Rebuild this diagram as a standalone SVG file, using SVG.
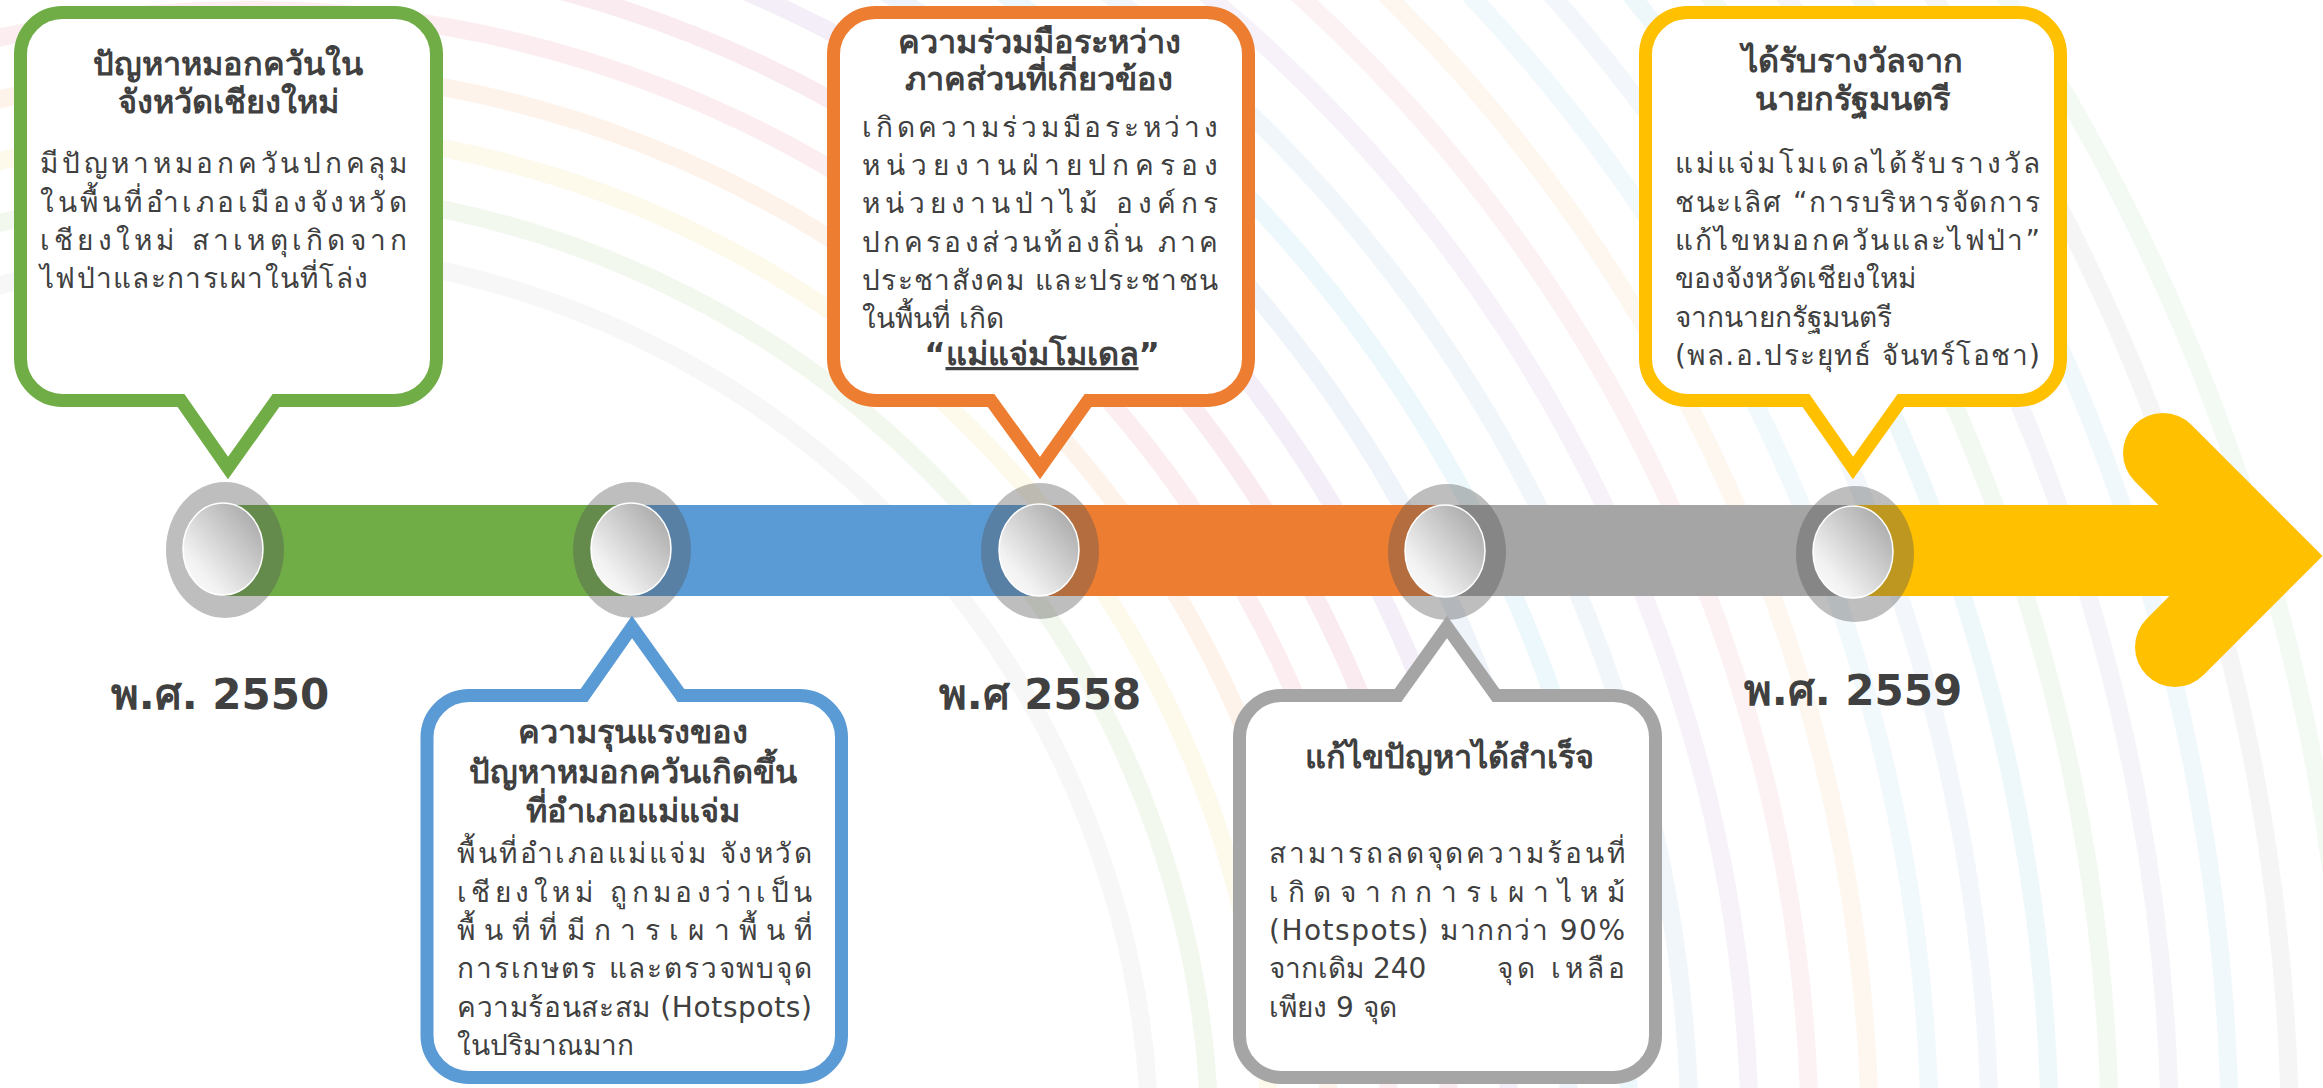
<svg xmlns="http://www.w3.org/2000/svg" width="2323" height="1088" viewBox="0 0 2323 1088">
<style>
.t{font-family:'DejaVu Sans','Noto Sans',sans-serif;fill:#404040}
.h{font-weight:bold;font-size:32.5px;text-anchor:middle}
.b{font-size:28px}
.yr{font-weight:bold;font-size:42px;text-anchor:middle}
.bub{fill:#fff;stroke-width:13;stroke-linejoin:miter}
.ring{fill:none;stroke-width:18}
.outer{fill:#555;opacity:0.38}
.inner{fill:url(#ig);stroke:#fff;stroke-width:1.5}
</style>
<defs>
<linearGradient id="ig" x1="1" y1="0" x2="0" y2="1">
<stop offset="0" stop-color="#9e9e9e"/>
<stop offset="0.75" stop-color="#f2f2f2"/>
<stop offset="1" stop-color="#ffffff"/>
</linearGradient>
</defs>
<rect width="2323" height="1088" fill="#fff"/>
<g id="background" opacity="0.14">
<circle class="ring" cx="250" cy="1150" r="900" stroke="#c8c8c8"/>
<circle class="ring" cx="250" cy="1150" r="960" stroke="#a9d38f"/>
<circle class="ring" cx="250" cy="1150" r="1020" stroke="#f2dc7a"/>
<circle class="ring" cx="250" cy="1150" r="1080" stroke="#f5b27a"/>
<circle class="ring" cx="250" cy="1150" r="1140" stroke="#ef8f9a"/>
<circle class="ring" cx="250" cy="1150" r="1200" stroke="#e07a9a"/>
<circle class="ring" cx="250" cy="1150" r="1260" stroke="#b08fc8"/>
<circle class="ring" cx="250" cy="1150" r="1320" stroke="#8fb8e0"/>
<circle class="ring" cx="250" cy="1150" r="1380" stroke="#7fd0ea"/>
<circle class="ring" cx="250" cy="1150" r="1440" stroke="#9fc4e0"/>
<circle class="ring" cx="250" cy="1150" r="1500" stroke="#c8a8d8"/>
<circle class="ring" cx="250" cy="1150" r="1560" stroke="#f0a0b0"/>
<circle class="ring" cx="250" cy="1150" r="1620" stroke="#f5c89a"/>
<circle class="ring" cx="250" cy="1150" r="1680" stroke="#a0d8f0"/>
<circle class="ring" cx="250" cy="1150" r="1740" stroke="#b0c8e8"/>
<circle class="ring" cx="250" cy="1150" r="1800" stroke="#8fd0e8"/>
<circle class="ring" cx="250" cy="1150" r="1860" stroke="#a8d8a0"/>
<circle class="ring" cx="250" cy="1150" r="1920" stroke="#b8b8d8"/>
<circle class="ring" cx="250" cy="1150" r="1980" stroke="#9fd4ec"/>
<circle class="ring" cx="250" cy="1150" r="2040" stroke="#c0c0c0"/>
<circle class="ring" cx="250" cy="1150" r="2100" stroke="#a8e0b0"/>
</g>
<g id="connectors">
<rect x="225" y="505" width="407" height="91" fill="#70ad47"/>
<rect x="632" y="505" width="408" height="91" fill="#5b9bd5"/>
<rect x="1040" y="505" width="407" height="91" fill="#ed7d31"/>
<rect x="1447" y="505" width="407" height="91" fill="#a5a5a5"/>
<rect x="1854" y="505" width="412" height="91" fill="#ffc000"/>
<polyline points="2163,453 2266,556 2175,647" fill="none" stroke="#ffc000" stroke-width="80" stroke-linecap="round" stroke-linejoin="miter"/>
</g>
<g id="milestone-1"><ellipse class="outer" cx="225" cy="550" rx="59" ry="68"/><ellipse class="inner" cx="223" cy="549" rx="40" ry="46"/></g>
<g id="milestone-2"><ellipse class="outer" cx="632" cy="550" rx="59" ry="68"/><ellipse class="inner" cx="631" cy="549" rx="40" ry="46"/></g>
<g id="milestone-3"><ellipse class="outer" cx="1040" cy="551" rx="59" ry="68"/><ellipse class="inner" cx="1039" cy="550" rx="40" ry="46"/></g>
<g id="milestone-4"><ellipse class="outer" cx="1447" cy="552" rx="59" ry="68"/><ellipse class="inner" cx="1445" cy="551" rx="40" ry="46"/></g>
<g id="milestone-5"><ellipse class="outer" cx="1855" cy="554" rx="59" ry="68"/><ellipse class="inner" cx="1853" cy="552" rx="40" ry="46"/></g>

<g id="callout-2550">
<path class="bub" stroke="#70ad47" d="M62.5 12.5 H394.5 A42 42 0 0 1 436.5 54.5 V358.5 A42 42 0 0 1 394.5 400.5 H276 L228 468 L181 400.5 H62.5 A42 42 0 0 1 20.5 358.5 V54.5 A42 42 0 0 1 62.5 12.5 Z"/>
<text class="t h" x="228" y="75">ปัญหาหมอกควันใน</text>
<text class="t h" x="228" y="113">จังหวัดเชียงใหม่</text>
<text class="t b" x="40" y="173" textLength="367" lengthAdjust="spacing">มีปัญหาหมอกควันปกคลุม</text>
<text class="t b" x="40" y="212" textLength="367" lengthAdjust="spacing">ในพื้นที่อำเภอเมืองจังหวัด</text>
<text class="t b" x="40" y="250" textLength="367" lengthAdjust="spacing">เชียงใหม่ สาเหตุเกิดจาก</text>
<text class="t b" x="40" y="288" textLength="328" lengthAdjust="spacing">ไฟป่าและการเผาในที่โล่ง</text>
</g>

<g id="callout-severity">
<path class="bub" stroke="#5b9bd5" d="M469 695.5 H584 L632 627 L681 695.5 H799.5 A42 42 0 0 1 841.5 737.5 V1035.5 A42 42 0 0 1 799.5 1077.5 H469 A42 42 0 0 1 427 1035.5 V737.5 A42 42 0 0 1 469 695.5 Z"/>
<text class="t h" x="633" y="743">ความรุนแรงของ</text>
<text class="t h" x="633" y="783">ปัญหาหมอกควันเกิดขึ้น</text>
<text class="t h" x="633" y="822">ที่อำเภอแม่แจ่ม</text>
<text class="t b" x="457" y="863" textLength="355" lengthAdjust="spacing">พื้นที่อำเภอแม่แจ่ม จังหวัด</text>
<text class="t b" x="457" y="902" textLength="355" lengthAdjust="spacing">เชียงใหม่ ถูกมองว่าเป็น</text>
<text class="t b" x="457" y="940" textLength="355" lengthAdjust="spacing">พื้นที่ที่มีการเผาพื้นที่</text>
<text class="t b" x="457" y="978" textLength="355" lengthAdjust="spacing">การเกษตร และตรวจพบจุด</text>
<text class="t b" x="457" y="1017" textLength="355" lengthAdjust="spacing">ความร้อนสะสม (Hotspots)</text>
<text class="t b" x="457" y="1055">ในปริมาณมาก</text>
</g>

<g id="callout-2558">
<path class="bub" stroke="#ed7d31" d="M875.5 12.5 H1206.5 A42 42 0 0 1 1248.5 54.5 V358.5 A42 42 0 0 1 1206.5 400.5 H1088 L1040 468 L991 400.5 H875.5 A42 42 0 0 1 833.5 358.5 V54.5 A42 42 0 0 1 875.5 12.5 Z"/>
<text class="t h" x="1039" y="53">ความร่วมมือระหว่าง</text>
<text class="t h" x="1039" y="90">ภาคส่วนที่เกี่ยวข้อง</text>
<text class="t b" x="862" y="137" textLength="356" lengthAdjust="spacing">เกิดความร่วมมือระหว่าง</text>
<text class="t b" x="862" y="175" textLength="356" lengthAdjust="spacing">หน่วยงานฝ่ายปกครอง</text>
<text class="t b" x="862" y="213" textLength="356" lengthAdjust="spacing">หน่วยงานป่าไม้ องค์กร</text>
<text class="t b" x="862" y="252" textLength="356" lengthAdjust="spacing">ปกครองส่วนท้องถิ่น ภาค</text>
<text class="t b" x="862" y="290" textLength="356" lengthAdjust="spacing">ประชาสังคม และประชาชน</text>
<text class="t b" x="862" y="328">ในพื้นที่ เกิด</text>
<text class="t h" x="1042" y="365">“<tspan text-decoration="underline">แม่แจ่มโมเดล</tspan>”</text>
</g>

<g id="callout-success">
<path class="bub" stroke="#a5a5a5" d="M1281.5 695.5 H1398 L1447 627 L1496 695.5 H1613.5 A42 42 0 0 1 1655.5 737.5 V1035.5 A42 42 0 0 1 1613.5 1077.5 H1281.5 A42 42 0 0 1 1239.5 1035.5 V737.5 A42 42 0 0 1 1281.5 695.5 Z"/>
<text class="t h" x="1449" y="768">แก้ไขปัญหาได้สำเร็จ</text>
<text class="t b" x="1269" y="863" textLength="356" lengthAdjust="spacing">สามารถลดจุดความร้อนที่</text>
<text class="t b" x="1269" y="902" textLength="356" lengthAdjust="spacing">เกิดจากการเผาไหม้</text>
<text class="t b" x="1269" y="940" textLength="356" lengthAdjust="spacing">(Hotspots) มากกว่า 90%</text>
<text class="t b" x="1269" y="978">จากเดิม 240</text>
<text class="t b" x="1497" y="978" textLength="128" lengthAdjust="spacing">จุด เหลือ</text>
<text class="t b" x="1269" y="1017">เพียง 9 จุด</text>
</g>

<g id="callout-2559">
<path class="bub" stroke="#ffc000" d="M1687.5 12.5 H2018.5 A42 42 0 0 1 2060.5 54.5 V358.5 A42 42 0 0 1 2018.5 400.5 H1901 L1853 468 L1806 400.5 H1687.5 A42 42 0 0 1 1645.5 358.5 V54.5 A42 42 0 0 1 1687.5 12.5 Z"/>
<text class="t h" x="1852" y="72">ได้รับรางวัลจาก</text>
<text class="t h" x="1852" y="110">นายกรัฐมนตรี</text>
<text class="t b" x="1675" y="173" textLength="365" lengthAdjust="spacing">แม่แจ่มโมเดลได้รับรางวัล</text>
<text class="t b" x="1675" y="212" textLength="365" lengthAdjust="spacing">ชนะเลิศ “การบริหารจัดการ</text>
<text class="t b" x="1675" y="250" textLength="365" lengthAdjust="spacing">แก้ไขหมอกควันและไฟป่า”</text>
<text class="t b" x="1675" y="288">ของจังหวัดเชียงใหม่</text>
<text class="t b" x="1675" y="327">จากนายกรัฐมนตรี</text>
<text class="t b" x="1675" y="365" textLength="365" lengthAdjust="spacing">(พล.อ.ประยุทธ์ จันทร์โอชา)</text>
</g>

<g id="year-labels">
<text class="t yr" x="220" y="709">พ.ศ. 2550</text>
<text class="t yr" x="1040" y="709">พ.ศ 2558</text>
<text class="t yr" x="1853" y="705">พ.ศ. 2559</text>
</g>
</svg>
